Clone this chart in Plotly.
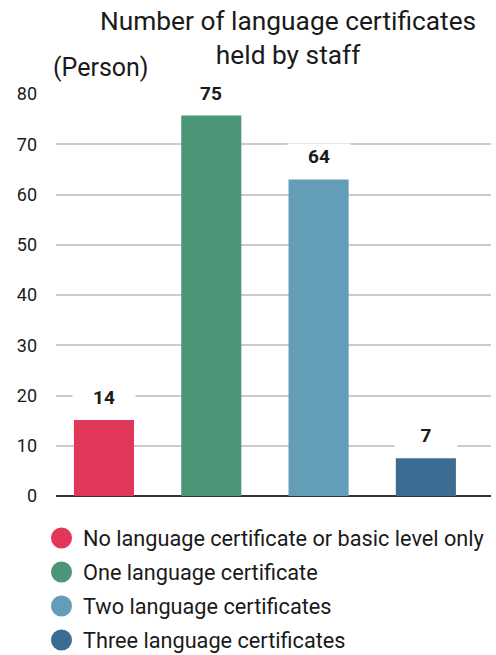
import plotly.graph_objects as go

categories = ["No language certificate or basic level only", "One language certificate",
              "Two language certificates", "Three language certificates"]
bar_heights = [15.1, 75.7, 63.0, 7.5]
value_labels = ["14", "75", "64", "7"]
colors = ["#E0375A", "#4C9678", "#639DB8", "#3C6C91"]
y_ticks = [0, 10, 20, 30, 40, 50, 60, 70, 80]

FONT = "Roboto"
W, H = 496, 655
L, R, T, B = 56, 5, 94, 159
PW, PH = W - L - R, H - T - B


def px(x):
    return (x - L) / PW


def py(y):
    return (H - B - y) / PH


fig = go.Figure()
xs = list(range(len(categories)))
fig.add_trace(go.Bar(x=xs, y=bar_heights, marker=dict(color=colors, line=dict(width=0)),
                     width=0.56, showlegend=False, hoverinfo="skip"))

for i, (h, lab) in enumerate(zip(bar_heights, value_labels)):
    fig.add_annotation(x=i, y=h, xref="x", yref="y", text="<b>" + lab + "</b>", showarrow=False,
                       yshift=23, bgcolor="white", width=60, height=22,
                       font=dict(family=FONT, size=19, color="#1a1a1a"))

# custom legend
for k, (cat, col) in enumerate(zip(categories, colors)):
    yc = 538 + k * 34
    fig.add_shape(type="circle", xref="paper", yref="paper",
                  x0=px(51), x1=px(72), y0=py(yc + 10.5), y1=py(yc - 10.5),
                  fillcolor=col, line=dict(width=0))
    fig.add_annotation(xref="paper", yref="paper", x=px(81), y=py(yc), text=cat,
                       showarrow=False, xanchor="left", yanchor="middle",
                       font=dict(family=FONT, size=21.7, color="#1a1a1a"))

fig.add_annotation(xref="paper", yref="paper", x=px(51), y=py(68), text="(Person)",
                   showarrow=False, xanchor="left", yanchor="middle",
                   font=dict(family=FONT, size=25, color="#1a1a1a"))

fig.add_annotation(xref="paper", yref="paper", x=px(288), y=py(4),
                   text="Number of language certificates<br>held by staff",
                   showarrow=False, xanchor="center", yanchor="top",
                   font=dict(family=FONT, size=26.3, color="#1a1a1a"))

fig.update_layout(
    width=W, height=H,
    margin=dict(l=L, r=R, t=T, b=B),
    paper_bgcolor="white", plot_bgcolor="white",
    font=dict(family=FONT),
    xaxis=dict(range=[-0.447, 3.607], showticklabels=False, showgrid=False, zeroline=False,
               showline=False, fixedrange=True),
    yaxis=dict(range=[0, 80], tickvals=y_ticks, showgrid=True, gridcolor="#cccccc", gridwidth=1.5,
               zeroline=True, zerolinecolor="#333333", zerolinewidth=2, showline=False,
               ticks="", ticklabelstandoff=18,
               tickfont=dict(family=FONT, size=18, color="#1a1a1a")),
    bargap=0.4,
)

fig.write_html("out.html")
